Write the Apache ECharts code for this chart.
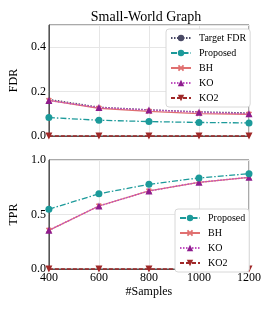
<!DOCTYPE html>
<html><head><meta charset="utf-8">
<script src="https://cdn.jsdelivr.net/npm/echarts@6/dist/echarts.min.js"></script>
<style>html,body{margin:0;padding:0;background:#fff}#c{width:274px;height:311px}</style>
</head><body><div id="c"></div>
<script>
const samples = [400, 600, 800, 1000, 1200];
const fdrTarget = [0.165, 0.130, 0.118, 0.109, 0.104];
const fdrProposed = [0.083, 0.071, 0.065, 0.061, 0.059];
const fdrBH = [0.160, 0.125, 0.111, 0.101, 0.098];
const fdrKO = [0.160, 0.128, 0.117, 0.107, 0.100];
const fdrKO2 = [0, 0, 0, 0, 0];
const tprProposed = [0.548, 0.690, 0.777, 0.835, 0.874];
const tprBH = [0.355, 0.578, 0.716, 0.795, 0.841];
const tprKO = [0.355, 0.578, 0.716, 0.795, 0.841];
const tprKO2 = [0, 0, 0, 0, 0];

const FONT = '"Liberation Serif", "DejaVu Serif", serif';
const pair = ys => samples.map((x, i) => [x, ys[i]]);

const styles = {
  'Target FDR': {color: '#4a4a66', line: {type: [1.5, 1.5], width: 1.3}, symbol: 'none'},
  'Proposed': {color: '#1c9a9a', line: {type: [6, 2, 1.5, 2], width: 1.3}, symbol: 'circle', size: 7},
  'BH': {color: '#e07070', line: {type: 'solid', width: 1.3}, symbol: 'path://M2,0 L5,3 L8,0 L10,2 L7,5 L10,8 L8,10 L5,7 L2,10 L0,8 L3,5 L0,2 Z', size: 6},
  'KO': {color: '#8e1c8e', line: {type: [1.5, 1.5], width: 1.5, color: '#c050c0'}, symbol: 'triangle', size: 7},
  'KO2': {color: '#a02828', line: {type: [4, 2], width: 1.3}, symbol: 'triangle', rotate: 180, size: 7}
};

function mk(name, ys, idx) {
  const s = styles[name];
  return {
    name, type: 'line', xAxisIndex: idx, yAxisIndex: idx,
    data: pair(ys), clip: false,
    symbol: s.symbol, symbolSize: s.size || 0, symbolRotate: s.rotate || 0,
    showSymbol: s.symbol !== 'none',
    itemStyle: {color: s.color},
    lineStyle: Object.assign({color: s.color}, s.line),
    animation: false
  };
}

function xAxis(idx, showLabels) {
  return {
    type: 'value', gridIndex: idx, min: 400, max: 1200, interval: 200,
    axisLine: {show: true, lineStyle: {color: '#555', width: 1}},
    axisTick: {show: false},
    axisLabel: {show: showLabels, fontFamily: FONT, fontSize: 12, color: '#000', margin: 3,
      formatter: v => String(v)},
    splitLine: {show: true, lineStyle: {color: '#e6e6e6', width: 1}},
    name: showLabels ? '#Samples' : '', nameLocation: 'middle', nameGap: 17,
    nameTextStyle: {fontFamily: FONT, fontSize: 12, color: '#000'}
  };
}
function yAxis(idx, name, max, interval) {
  return {
    type: 'value', gridIndex: idx, min: 0, max, interval,
    axisLine: {show: true, lineStyle: {color: '#555', width: 1}},
    axisTick: {show: false},
    axisLabel: {fontFamily: FONT, fontSize: 12, color: '#000', margin: 3, showMaxLabel: max === 1,
      formatter: v => v.toFixed(1)},
    splitLine: {show: true, lineStyle: {color: '#e6e6e6', width: 1}},
    name, nameLocation: 'middle', nameGap: 16,
    nameTextStyle: {fontFamily: FONT, fontSize: 12, color: '#000'}
  };
}
const legendCommon = {
  orient: 'vertical', itemWidth: 20, itemHeight: 8, itemGap: 5,
  backgroundColor: '#fff', borderColor: '#d8d8d8', borderWidth: 1, borderRadius: 3,
  padding: [4, 4, 4, 4],
  textStyle: {fontFamily: FONT, fontSize: 10, color: '#000', padding: [0, 0, 0, 3]}
};

const chart = echarts.init(document.getElementById('c'), null, {renderer: 'canvas'});
chart.setOption({
  backgroundColor: '#fff',
  animation: false,
  title: {text: 'Small-World Graph', left: 141, textAlign: 'center', top: 5,
    textStyle: {fontFamily: FONT, fontSize: 14, fontWeight: 'normal', color: '#000'}},
  grid: [
    {left: 43, top: 25, width: 206, height: 111, show: true, borderColor: '#555', borderWidth: 1, backgroundColor: 'transparent'},
    {left: 43, top: 160, width: 206, height: 109, show: true, borderColor: '#555', borderWidth: 1, backgroundColor: 'transparent'}
  ],
  xAxis: [xAxis(0, false), xAxis(1, true)],
  yAxis: [yAxis(0, 'FDR', 0.5, 0.2), yAxis(1, 'TPR', 1, 0.5)],
  legend: [
    Object.assign({}, legendCommon, {left: 166, top: 29, data: ['Target FDR', 'Proposed', 'BH', 'KO', 'KO2']}),
    Object.assign({}, legendCommon, {left: 175, top: 209, data: ['Proposed', 'BH', 'KO', 'KO2']})
  ],
  series: [
    mk('Target FDR', fdrTarget, 0),
    mk('KO2', fdrKO2, 0),
    mk('BH', fdrBH, 0),
    mk('KO', fdrKO, 0),
    mk('Proposed', fdrProposed, 0),
    mk('KO2', tprKO2, 1),
    mk('BH', tprBH, 1),
    mk('KO', tprKO, 1),
    mk('Proposed', tprProposed, 1)
  ]
});
</script></body></html>
